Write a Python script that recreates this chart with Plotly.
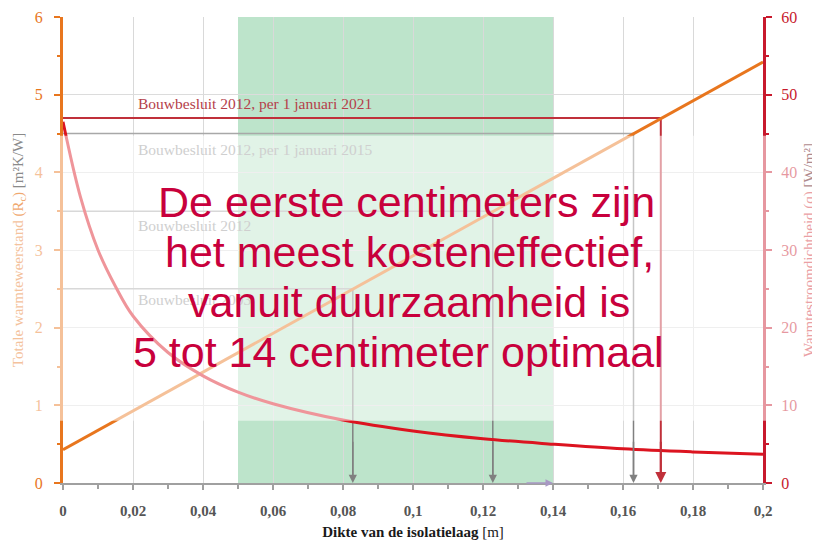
import plotly.graph_objects as go

# ---------------- data ----------------
thickness_line = [0.0, 0.2]          # m
rc_line = [0.43, 5.42]               # m2K/W

thickness_curve = [0.0, 0.005, 0.01, 0.015, 0.02, 0.03, 0.04, 0.05, 0.06,
                   0.08, 0.10, 0.12, 0.14, 0.16, 0.18, 0.20]
q_curve = [46.5, 36.8, 30.0, 25.3, 21.5, 16.8, 13.8, 11.7, 10.2,
           8.1, 6.7, 5.7, 5.0, 4.4, 4.0, 3.7]   # W/m2

req_labels = ["Bouwbesluit 2012, per 1 januari 2021",
              "Bouwbesluit 2012, per 1 januari 2015",
              "Bouwbesluit 2012",
              "Bouwbesluit 2003"]
req_rc = [4.7, 4.5, 3.5, 2.5]
req_thickness = [0.1708, 0.163, 0.1228, 0.0828]
req_label_y = [4.89, 4.29, 3.32, 2.36]

optimal_range = [0.05, 0.14]

x_ticks = [0, 0.02, 0.04, 0.06, 0.08, 0.1, 0.12, 0.14, 0.16, 0.18, 0.2]
x_ticktext = ["0", "0,02", "0,04", "0,06", "0,08", "0,1", "0,12", "0,14",
              "0,16", "0,18", "0,2"]

message_lines = ["De eerste centimeters zijn",
                 "het meest kosteneffectief,",
                 "vanuit duurzaamheid is",
                 "5 tot 14 centimeter optimaal"]

# ---------------- styling ----------------
ORANGE = "#e8761e"
RED_AXIS = "#c8192d"
RED_CURVE = "#dc1420"
RED_REQ = "#c0303a"
GRAY_REQ = "#a8a8a8"
GRAY_ARROW = "#808080"
GREEN = "#bde4cb"
MSG = "#c8003c"
SERIF = "Liberation Serif"

fig = go.Figure()

fig.add_trace(go.Scatter(x=thickness_line, y=rc_line, mode="lines",
                         line=dict(color=ORANGE, width=3), yaxis="y",
                         hoverinfo="skip", showlegend=False))
fig.add_trace(go.Scatter(x=thickness_curve, y=q_curve, mode="lines",
                         line=dict(color=RED_CURVE, width=3, shape="spline"),
                         yaxis="y2", hoverinfo="skip", showlegend=False))

shapes = []
# optimal band
shapes.append(dict(type="rect", xref="x", yref="paper",
                   x0=optimal_range[0], x1=optimal_range[1], y0=0, y1=1,
                   fillcolor=GREEN, line=dict(width=0), layer="below"))
# requirement lines
annotations = []
for i, (lab, rc, d, ly) in enumerate(zip(req_labels, req_rc, req_thickness, req_label_y)):
    is_red = i == 0
    hc = RED_REQ if is_red else GRAY_REQ
    vc = RED_REQ if is_red else GRAY_ARROW
    shapes.append(dict(type="line", xref="x", yref="y", x0=0, x1=d, y0=rc, y1=rc,
                       line=dict(color=hc, width=2 if is_red else 1.5), layer="between"))
    shapes.append(dict(type="line", xref="x", yref="y", x0=d, x1=d, y0=rc, y1=0.05,
                       line=dict(color=vc, width=2 if is_red else 1.5), layer="between"))
    annotations.append(dict(x=d, y=0, xref="x", yref="y", ax=d, ay=0.55,
                            axref="x", ayref="y", text="", showarrow=True,
                            arrowhead=2, arrowsize=1.1, arrowwidth=2 if is_red else 1.5,
                            arrowcolor=vc))
    annotations.append(dict(x=0.0209, y=ly, xref="x", yref="y", text=lab,
                            showarrow=False, xanchor="left", yanchor="middle",
                            font=dict(family=SERIF, size=15.5,
                                      color="#b5404a" if is_red else "#cfcfcf")))

# grey-purple arrow marking the end of the optimal range
annotations.append(dict(x=optimal_range[1], y=0, xref="x", yref="y",
                        ax=optimal_range[1] - 0.008, ay=0, axref="x", ayref="y",
                        text="", showarrow=True, arrowhead=2, arrowsize=1,
                        arrowwidth=1.5, arrowcolor="#a898c4"))

# fading overlay over the middle band
shapes.append(dict(type="rect", xref="paper", yref="paper",
                   x0=-0.12, x1=1.12, y0=0.8 / 6, y1=4.47 / 6,
                   fillcolor="rgba(255,255,255,0.55)", line=dict(width=0),
                   layer="above"))

# big message text
msg_y = [0.603, 0.496, 0.388, 0.281]
msg_x = [0.4914, 0.4943, 0.4943, 0.4786]
for t, yy, xx in zip(message_lines, msg_y, msg_x):
    annotations.append(dict(x=xx, y=yy, xref="paper", yref="paper", text=t,
                            showarrow=False, xanchor="center", yanchor="middle",
                            font=dict(family="Liberation Sans", size=43, color=MSG)))

# the page body adds an 8px margin, so the figure is sized/offset for it
fig.update_layout(
    width=812, height=532,
    margin=dict(l=55, r=57, t=9, b=57, autoexpand=False),
    paper_bgcolor="white", plot_bgcolor="white",
    showlegend=False,
    shapes=shapes, annotations=annotations,
    xaxis=dict(range=[0, 0.2], tickvals=x_ticks,
               ticktext=["<b>" + t + "</b>" for t in x_ticktext],
               automargin=False,
               showgrid=True, gridcolor="#d9d9d9", gridwidth=1,
               showline=True, linecolor="#a0a0a0", linewidth=2,
               ticks="outside", ticklen=5, tickcolor="#a0a0a0", tickwidth=1.5,
               minor=dict(dtick=0.01, ticks="outside", ticklen=4,
                          tickcolor="#a0a0a0", showgrid=False),
               ticklabelstandoff=8,
               tickfont=dict(family=SERIF, size=15, color="#555555"),
               zeroline=False,
               title=dict(text="<b>Dikte van de isolatielaag</b> [m]",
                          font=dict(family=SERIF, size=15, color="#1a1a1a"),
                          standoff=8)),
    yaxis=dict(range=[0, 6], dtick=1, showgrid=True, gridcolor="#dcdcdc",
               automargin=False,
               showline=True, linecolor=ORANGE, linewidth=3,
               ticks="outside", ticklen=6, tickcolor=ORANGE, tickwidth=2,
               minor=dict(dtick=0.5, ticks="outside", ticklen=3,
                          tickcolor=ORANGE, showgrid=False),
               ticklabelstandoff=8,
               tickfont=dict(family=SERIF, size=16, color=ORANGE),
               zeroline=False,
               title=dict(text="<span style='color:#f4c29c'>Totale warmteweerstand </span>"
                               "<span style='color:#f0a86e'>(R<sub>c</sub>)</span> "
                               "<span style='color:#8a8a8a'>[m²K/W]</span>",
                          font=dict(family=SERIF, size=15), standoff=8)),
    yaxis2=dict(range=[0, 60], dtick=10, overlaying="y", side="right",
                automargin=False,
                showgrid=False, showline=True, linecolor=RED_AXIS, linewidth=3,
                ticks="outside", ticklen=6, tickcolor=RED_AXIS, tickwidth=2,
                minor=dict(dtick=5, ticks="outside", ticklen=3,
                           tickcolor=RED_AXIS, showgrid=False),
                ticklabelstandoff=6,
                tickfont=dict(family=SERIF, size=16, color=RED_AXIS),
                zeroline=False,
                title=dict(text="<span style='color:#eaa0a4'>Warmtestroomdichtheid (q) </span>"
                                "<span style='color:#b08a8e'>[W/m²]</span>",
                           font=dict(family=SERIF, size=15), standoff=8)),
)

fig.write_html("out.html")
